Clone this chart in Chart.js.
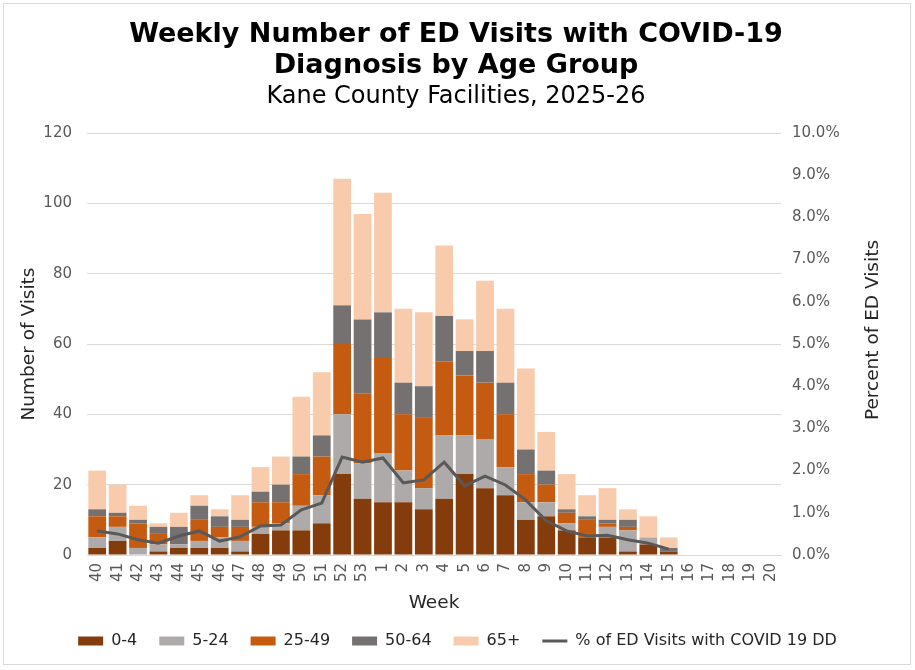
<!DOCTYPE html>
<html><head><meta charset="utf-8">
<script src="https://cdn.jsdelivr.net/npm/chart.js@4.4.1/dist/chart.umd.min.js"></script>
<style>html,body{margin:0;padding:0;background:#fff;} #wrap{width:915px;height:670px;position:relative;}</style>
</head><body><div id="wrap"><canvas id="c" width="915" height="670"></canvas></div>
<script>
const weeks = ['40','41','42','43','44','45','46','47','48','49','50','51','52','53','1','2','3','4','5','6','7','8','9','10','11','12','13','14','15','16','17','18','19','20'];
const age0_4  = [2,4,0,1,2,2,2,1,6,7,7,9,23,16,15,15,13,16,23,19,17,10,11,7,5,5,1,3,1,0,0,0,0,0];
const age5_24 = [3,4,2,2,1,2,3,3,2,2,7,8,17,10,14,9,6,18,11,14,8,5,4,2,0,3,6,2,0,0,0,0,0,0];
const age25_49= [6,3,7,3,0,6,3,4,7,6,9,11,20,20,27,16,20,21,17,16,15,8,5,3,5,1,1,0,0,0,0,0,0,0];
const age50_64= [2,1,1,2,5,4,3,2,3,5,5,6,11,21,13,9,9,13,7,9,9,7,4,1,1,1,2,0,1,0,0,0,0,0];
const age65p  = [11,8,4,1,4,3,2,7,7,8,17,18,36,30,34,21,21,20,9,20,21,23,11,10,6,9,3,6,3,0,0,0,0,0];
const pctCovid= [0.57,0.50,0.36,0.28,0.45,0.57,0.33,0.43,0.69,0.71,1.07,1.23,2.32,2.20,2.30,1.71,1.78,2.20,1.64,1.87,1.66,1.30,0.81,0.57,0.45,0.47,0.36,0.28,0.14,null,null,null,null,null];
const leftTicks = [0,20,40,60,80,100,120];
const rightTicks = [0,1,2,3,4,5,6,7,8,9,10];

const FONT = "'DejaVu Sans', Verdana, sans-serif";

const decor = {
  id: 'decor',
  afterDraw(chart) {
    const ctx = chart.ctx;
    ctx.save();
    ctx.strokeStyle = '#d9d9d9';
    ctx.lineWidth = 1;
    ctx.strokeRect(3.5, 3.5, 907, 661);
    ctx.fillStyle = '#000';
    ctx.textAlign = 'center';
    ctx.textBaseline = 'alphabetic';
    ctx.font = "bold 27px " + FONT;
    ctx.fillText('Weekly Number of ED Visits with COVID-19', 456, 42);
    ctx.fillText('Diagnosis by Age Group', 456, 73);
    ctx.font = "24px " + FONT;
    ctx.fillText('Kane County Facilities, 2025-26', 456, 103);
    // right axis title, reading bottom to top
    ctx.fillStyle = '#262626';
    ctx.font = "18.5px " + FONT;
    ctx.translate(873, 330);
    ctx.rotate(-Math.PI / 2);
    ctx.textBaseline = 'middle';
    ctx.fillText('Percent of ED Visits', 0, 0);
    ctx.restore();
  }
};

const mk = (label, data, color) => ({
  type: 'bar', label, data, backgroundColor: color, borderWidth: 0,
  yAxisID: 'y', stack: 's', barPercentage: 0.87, categoryPercentage: 1.0, order: 0
});

new Chart(document.getElementById('c'), {
  data: {
    labels: weeks,
    datasets: [
      mk('0-4', age0_4, '#843C0C'),
      mk('5-24', age5_24, '#AEAAAA'),
      mk('25-49', age25_49, '#C55A11'),
      mk('50-64', age50_64, '#767171'),
      mk('65+', age65p, '#F8CBAD'),
      {
        type: 'line', label: '% of ED Visits with COVID 19 DD', data: pctCovid,
        borderColor: '#595959', backgroundColor: '#595959', borderWidth: 3,
        pointRadius: 0, tension: 0, yAxisID: 'y1', order: -1, spanGaps: false
      }
    ]
  },
  options: {
    responsive: false,
    animation: false,
    devicePixelRatio: 1,
    layout: { padding: { top: 133, left: 14, right: 14, bottom: 11 } },
    plugins: {
      title: { display: false },
      tooltip: { enabled: false },
      legend: {
        position: 'bottom',
        labels: {
          font: { family: FONT, size: 16 },
          color: '#262626',
          padding: 22,
          boxWidth: 25,
          boxHeight: 9,
          usePointStyle: true,
          pointStyleWidth: 25,
          sort: (a, b) => a.datasetIndex - b.datasetIndex,
          generateLabels(chart) {
            const items = Chart.defaults.plugins.legend.labels.generateLabels(chart);
            items.forEach(it => {
              const ds = chart.data.datasets[it.datasetIndex];
              if (ds.type === 'line') {
                it.pointStyle = 'line';
                it.strokeStyle = '#595959';
                it.lineWidth = 3;
              } else {
                it.pointStyle = 'rect';
                it.lineWidth = 0;
                it.strokeStyle = ds.backgroundColor;
              }
            });
            return items;
          }
        }
      }
    },
    scales: {
      x: {
        stacked: true,
        grid: { display: false, drawTicks: false },
        border: { display: true, color: '#d9d9d9', width: 1 },
        ticks: { font: { family: FONT, size: 15 }, color: '#595959', maxRotation: 90, minRotation: 90, padding: 8, autoSkip: false },
        title: { display: true, text: 'Week', font: { family: FONT, size: 18.5 }, color: '#262626', padding: { top: 0, bottom: -3 } },
        afterFit(s) { s.height = 56; }
      },
      y: {
        position: 'left', stacked: true, min: 0, max: 120,
        afterBuildTicks(s) { s.ticks = leftTicks.map(v => ({ value: v })); },
        grid: { color: '#d9d9d9', drawTicks: false },
        border: { display: false },
        ticks: { font: { family: FONT, size: 15 }, color: '#595959', padding: 15 },
        title: { display: true, text: 'Number of Visits', font: { family: FONT, size: 18.5 }, color: '#262626', padding: { top: 4, bottom: 0 } },
        afterFit(s) { s.width = 73; }
      },
      y1: {
        position: 'right', min: 0, max: 10,
        afterBuildTicks(s) { s.ticks = rightTicks.map(v => ({ value: v })); },
        grid: { display: false, drawTicks: false },
        border: { display: false },
        ticks: { font: { family: FONT, size: 15 }, color: '#595959', padding: 11, callback: v => Number(v).toFixed(1) + '%' },
        afterFit(s) { s.width = 120; }
      }
    }
  },
  plugins: [decor]
});
</script>
</body></html>
